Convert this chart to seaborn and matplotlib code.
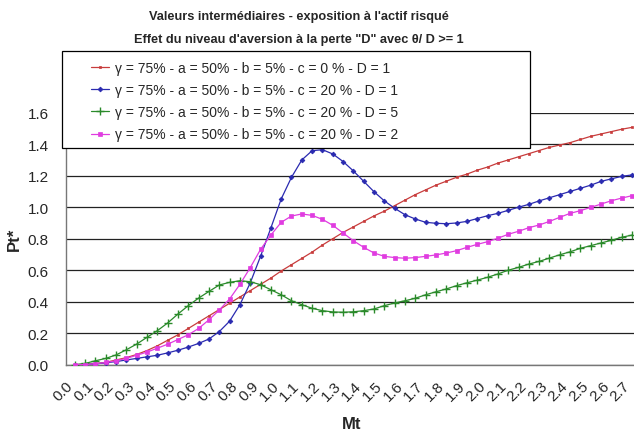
import numpy as np
import seaborn as sns
import matplotlib.pyplot as plt
from matplotlib.patches import Rectangle

# Mt categories: 0.00 .. 2.70 by 0.05 (55 points), labels every 0.1
mt = np.arange(55) * 0.05
tick_vals = np.arange(28) * 0.1
tick_labels = [f"{v:.1f}" for v in tick_vals]

pt_c0_d1 = [0.000, 0.002, 0.007, 0.015, 0.030, 0.045, 0.065, 0.090, 0.120, 0.155,
            0.190, 0.230, 0.270, 0.310, 0.350, 0.390, 0.430, 0.470, 0.510, 0.550,
            0.595, 0.635, 0.675, 0.715, 0.760, 0.800, 0.840, 0.875, 0.910, 0.945,
            0.975, 1.010, 1.045, 1.080, 1.110, 1.140, 1.165, 1.190, 1.210, 1.235,
            1.255, 1.280, 1.300, 1.320, 1.340, 1.360, 1.380, 1.395, 1.410, 1.430,
            1.450, 1.465, 1.480, 1.495, 1.507]

pt_c20_d1 = [0.000, 0.001, 0.005, 0.012, 0.020, 0.030, 0.040, 0.050, 0.060, 0.075,
             0.092, 0.112, 0.135, 0.163, 0.210, 0.276, 0.381, 0.519, 0.688, 0.868,
             1.052, 1.190, 1.300, 1.359, 1.365, 1.338, 1.290, 1.230, 1.164, 1.098,
             1.040, 0.993, 0.952, 0.925, 0.904, 0.898, 0.895, 0.900, 0.910, 0.928,
             0.946, 0.961, 0.980, 1.000, 1.018, 1.040, 1.060, 1.080, 1.100, 1.120,
             1.140, 1.164, 1.180, 1.196, 1.205]

pt_c20_d5 = [0.000, 0.008, 0.025, 0.040, 0.062, 0.095, 0.131, 0.174, 0.216, 0.265,
             0.322, 0.375, 0.423, 0.465, 0.506, 0.523, 0.533, 0.527, 0.508, 0.476,
             0.444, 0.406, 0.381, 0.358, 0.343, 0.335, 0.333, 0.336, 0.343, 0.354,
             0.375, 0.392, 0.406, 0.422, 0.444, 0.463, 0.481, 0.502, 0.520, 0.537,
             0.555, 0.576, 0.600, 0.618, 0.639, 0.656, 0.677, 0.698, 0.717, 0.739,
             0.756, 0.773, 0.790, 0.809, 0.823]

pt_c20_d2 = [0.000, 0.001, 0.006, 0.014, 0.025, 0.040, 0.060, 0.080, 0.105, 0.130,
             0.160, 0.190, 0.230, 0.285, 0.347, 0.417, 0.510, 0.616, 0.732, 0.823,
             0.904, 0.944, 0.957, 0.948, 0.923, 0.885, 0.836, 0.787, 0.745, 0.709,
             0.688, 0.680, 0.676, 0.680, 0.688, 0.697, 0.709, 0.724, 0.745, 0.764,
             0.781, 0.803, 0.828, 0.847, 0.870, 0.887, 0.910, 0.936, 0.961, 0.978,
             0.999, 1.020, 1.041, 1.058, 1.073]

labels = ["γ = 75% - a = 50% - b = 5% - c = 0 % - D = 1",
          "γ = 75% - a = 50% - b = 5% - c = 20 % - D = 1",
          "γ = 75% - a = 50% - b = 5% - c = 20 % - D = 5",
          "γ = 75% - a = 50% - b = 5% - c = 20 % - D = 2"]

sns.set_theme(style="white")
plt.rcParams['font.family'] = ['Liberation Sans', 'DejaVu Sans']

W, H = 634, 439
fig = plt.figure(figsize=(W / 100, H / 100), dpi=100)
ax = fig.add_axes([65.5 / W, 1 - 365.7 / H, (637.2 - 65.5) / W, (365.7 - 113.7) / H])

styles = [
    (pt_c0_d1, "#c83c3c", "s", 2.0, 0.5),
    (pt_c20_d1, "#2a2ab0", "D", 2.4, 0.6),
    (pt_c20_d5, "#2a8a2a", "+", 6.0, 1.0),
    (pt_c20_d2, "#e03ce0", "s", 2.3, 0.5),
]
for (vals, color, marker, ms, mew), label in zip(styles, labels):
    sns.lineplot(x=mt, y=vals, ax=ax, color=color, marker=marker, markersize=ms,
                 markeredgewidth=mew, markeredgecolor=color, markerfacecolor=color,
                 linewidth=0.9, label=label, zorder=3)

handles, labs = ax.get_legend_handles_labels()
ax.get_legend().remove()

ax.set_xlim(-0.025, 2.725)
ax.set_ylim(0, 1.6)
ax.set_yticks(np.arange(9) * 0.2)
ax.set_yticklabels([f"{v:.1f}" for v in np.arange(9) * 0.2], fontsize=11)
# rotated labels sit a little left of their category (Excel style)
label_offset = 0.045
ax.set_xticks(tick_vals - label_offset)
ax.set_xticklabels(tick_labels, rotation=45, ha="right", va="top",
                   rotation_mode="anchor", fontsize=11)
ax.set_xticks(np.arange(56) * 0.05 - 0.025, minor=True)
ax.tick_params(axis="x", which="major", length=0, pad=10)
ax.tick_params(axis="x", which="minor", length=5, width=0.8, color="#555555", direction="out")
ax.tick_params(axis="y", length=5, width=0.8, color="#555555", direction="out", pad=7)

ax.grid(axis="y", color="#222222", linewidth=0.9)
ax.grid(axis="x", visible=False)
for side in ["top", "right"]:
    ax.spines[side].set_visible(False)
for side in ["left", "bottom"]:
    ax.spines[side].set_color("#777777")
    ax.spines[side].set_linewidth(1.0)

ax.set_xlabel("Mt", fontsize=12, fontweight="bold", labelpad=9)
ax.set_ylabel("Pt*", fontsize=12, fontweight="bold", labelpad=4)

fig.text(299 / W, 1 - 17 / H, "Valeurs intermédiaires - exposition à l'actif risqué",
         ha="center", va="center", fontsize=9.2, fontweight="bold")
fig.text(299 / W, 1 - 40 / H, "Effet du niveau d'aversion à la perte \"D\" avec θ/ D >= 1",
         ha="center", va="center", fontsize=9.2, fontweight="bold")

# legend box
box = Rectangle((62 / W, 1 - 149 / H), (530 - 62) / W, (149 - 52) / H,
                transform=fig.transFigure, facecolor="white", edgecolor="black",
                linewidth=0.9, zorder=5)
fig.patches.append(box)
leg = fig.legend(handles, labs, loc="center left",
                 bbox_to_anchor=(84 / W, 1 - 102 / H), bbox_transform=fig.transFigure,
                 frameon=False, fontsize=10, handlelength=1.3, handletextpad=0.45,
                 labelspacing=0.6, borderpad=0)
leg.set_zorder(6)

fig.savefig("out.png", dpi=100)
